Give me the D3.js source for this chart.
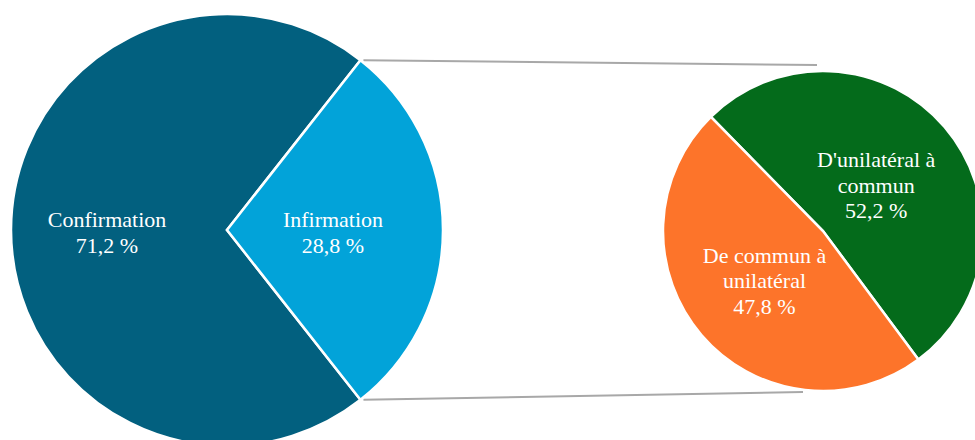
<!DOCTYPE html>
<html>
<head>
<meta charset="utf-8">
<script src="https://cdn.jsdelivr.net/npm/d3@7"></script>
<style>
  html, body { margin: 0; padding: 0; background: #ffffff; }
  svg { display: block; }
</style>
</head>
<body>
<svg id="chart" width="975" height="440"></svg>
<script>
// ---- data ----
const mainCategories = ["Confirmation", "Infirmation"];
const mainValues = [71.2, 28.8];
const mainLabelLines = [["Confirmation"], ["Infirmation"]];

const subCategories = ["D'unilatéral à commun", "De commun à unilatéral"];
const subValues = [52.2, 47.8];
const subLabelLines = [["D'unilatéral à", "commun"], ["De commun à", "unilatéral"]];

// ---- styles ----
const mainColors = ["#02607f", "#02a3d9"];
const subColors = ["#046b1b", "#fd742a"];

const svg = d3.select("#chart");
const fmt = v => d3.format(".1f")(v).replace(".", ",") + " %";
const toRad = d => d * Math.PI / 180;

// ---- main pie ----
const main = { cx: 227, cy: 230, r: 216 };
const infShare = mainValues[1] / d3.sum(mainValues);
const mainStart = Math.PI / 2 + Math.PI * infShare;
const mainPie = d3.pie().sort(null).value(d => d)
  .startAngle(mainStart).endAngle(mainStart + 2 * Math.PI);
const mainArcs = mainPie(mainValues);
const mainArc = d3.arc().innerRadius(0).outerRadius(main.r);

// ---- sub pie ----
const sub = { cx: 823, cy: 231, r: 160 };
const subStart = toRad(-44.5);
const subPie = d3.pie().sort(null).value(d => d)
  .startAngle(subStart).endAngle(subStart + 2 * Math.PI);
const subArcs = subPie(subValues);
const subArc = d3.arc().innerRadius(0).outerRadius(sub.r);

// ---- connector lines (from Infirmation slice edges to the sub pie) ----
const infArc = mainArcs[1];
const ptOn = (c, r, a) => [c.cx + r * Math.sin(a), c.cy - r * Math.cos(a)];
const topStart = ptOn(main, main.r, infArc.startAngle);
const botStart = ptOn(main, main.r, infArc.endAngle);
const topEnd = [sub.cx - 6, sub.cy - sub.r - 6];
const botEnd = [sub.cx - 20, sub.cy + sub.r + 1];
svg.append("g").selectAll("line")
  .data([[topStart, topEnd], [botStart, botEnd]])
  .join("line")
  .attr("x1", d => d[0][0] + 3).attr("y1", d => d[0][1])
  .attr("x2", d => d[1][0]).attr("y2", d => d[1][1])
  .attr("stroke", "#a8a8a8").attr("stroke-width", 2);

const gMain = svg.append("g").attr("transform", `translate(${main.cx},${main.cy})`);
gMain.selectAll("path").data(mainArcs).join("path")
  .attr("d", mainArc)
  .attr("fill", (d, i) => mainColors[i])
  .attr("stroke", "#ffffff").attr("stroke-width", 2.5).attr("stroke-linejoin", "miter");

const gSub = svg.append("g").attr("transform", `translate(${sub.cx},${sub.cy})`);
gSub.selectAll("path").data(subArcs).join("path")
  .attr("d", subArc)
  .attr("fill", (d, i) => subColors[i])
  .attr("stroke", "#ffffff").attr("stroke-width", 2.5);

// ---- labels ----
const fontFamily = "'Liberation Serif', 'DejaVu Serif', serif";
function drawLabels(g, arcs, linesArr, values, fracs, fs, lh, shift) {
  arcs.forEach((a, i) => {
    const mid = (a.startAngle + a.endAngle) / 2;
    const rr = fracs[i];
    const x = rr * Math.sin(mid);
    const y = -rr * Math.cos(mid);
    const lines = linesArr[i].concat([fmt(values[i])]);
    const t = g.append("text")
      .attr("text-anchor", "middle")
      .attr("font-family", fontFamily)
      .attr("font-size", fs)
      .attr("fill", "#ffffff");
    const y0 = y - (lines.length - 1) * lh / 2 + shift;
    lines.forEach((ln, j) => {
      t.append("tspan").attr("x", x).attr("y", y0 + j * lh).text(ln);
    });
  });
}
drawLabels(gMain, mainArcs, mainLabelLines, mainValues, [120, 106], 22, 26, 10);
drawLabels(gSub, subArcs, subLabelLines, subValues, [70, 77], 22, 25.5, 7);
</script>
</body>
</html>
